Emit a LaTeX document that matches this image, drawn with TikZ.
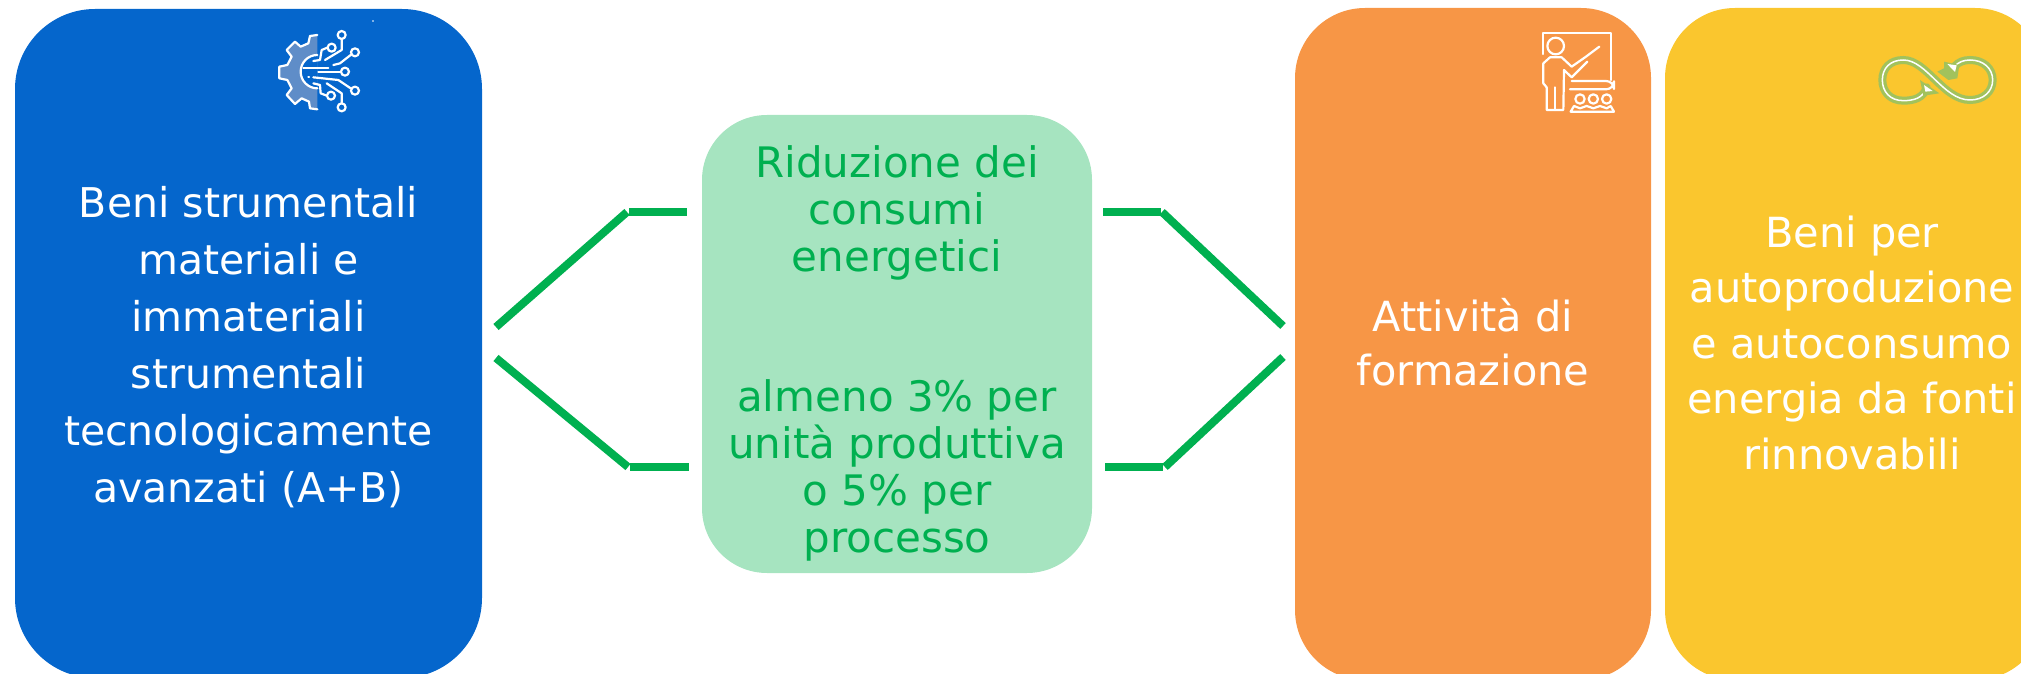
\documentclass[tikz,border=0pt]{standalone}
\usepackage{fontspec}
\setmainfont{DejaVu Sans}
\definecolor{bluebox}{HTML}{0566CC}
\definecolor{mintbox}{HTML}{A6E4C0}
\definecolor{orangebox}{HTML}{F79646}
\definecolor{yellowbox}{HTML}{FAC62E}
\definecolor{linkgreen}{HTML}{00B050}
\definecolor{leafgreen}{HTML}{A2C25C}
\definecolor{gearfill}{HTML}{5F8DC8}
\tikzset{
    panel/.style={rectangle,rounded corners=#1,inner sep=0pt,align=center,text=white},
    link/.style={draw=linkgreen,line width=8pt},
    iconline/.style={draw=white,line width=2.2pt,line cap=round,line join=round}
}
\begin{document}
\begin{tikzpicture}[x=1pt,y=-1pt]
    \useasboundingbox (0,0) rectangle (2021,674);

    % riquadri principali
    \node[panel=80pt,fill=bluebox,minimum width=467pt,minimum height=669pt] (beni) at (248.5,343.5) {};
    \node[panel=65pt,fill=mintbox,minimum width=390pt,minimum height=458pt] (riduzione) at (897,344) {};
    \node[panel=70pt,fill=orangebox,minimum width=356pt,minimum height=672pt] (formazione) at (1473,344) {};
    \node[panel=70pt,fill=yellowbox,minimum width=380pt,minimum height=672pt] (rinnovabili) at (1855,344) {};

    % testi
    \node[panel=0pt,font=\fontsize{41}{57}\selectfont] (benitext) at (248.5,347) {Beni strumentali\\materiali e\\immateriali\\strumentali\\tecnologicamente\\avanzati (A+B)};
    \node[panel=0pt,text=linkgreen,font=\fontsize{42}{47}\selectfont] (riduzionetext) at (897,353.5) {Riduzione dei\\consumi\\energetici\\[93pt]almeno 3\% per\\unità produttiva\\o 5\% per\\processo};
    \node[panel=0pt,font=\fontsize{41.5}{54}\selectfont] (formazionetext) at (1473,342) {Attività di\\formazione};
    \node[panel=0pt,font=\fontsize{41.5}{55.5}\selectfont] (rinnovabilitext) at (1852,343) {Beni per\\autoproduzione\\e autoconsumo\\energia da fonti\\rinnovabili};

    % connettori a sinistra
    \coordinate (lefttopA) at (496,327);
    \coordinate (lefttopB) at (627,212);
    \coordinate (lefttopC) at (629,212);
    \coordinate (lefttopD) at (687,212);
    \coordinate (leftlowA) at (496,358);
    \coordinate (leftlowB) at (628,467);
    \coordinate (leftlowC) at (630,467);
    \coordinate (leftlowD) at (689,467);
    \draw[link] (lefttopA) -- (lefttopB);
    \draw[link] (lefttopC) -- (lefttopD);
    \draw[link] (leftlowA) -- (leftlowB);
    \draw[link] (leftlowC) -- (leftlowD);

    % connettori a destra
    \coordinate (righttopA) at (1103,212);
    \coordinate (righttopB) at (1161,212);
    \coordinate (righttopC) at (1162,212);
    \coordinate (righttopD) at (1283,326);
    \coordinate (rightlowA) at (1105,467);
    \coordinate (rightlowB) at (1163,467);
    \coordinate (rightlowC) at (1165,467);
    \coordinate (rightlowD) at (1283,357);
    \draw[link] (righttopA) -- (righttopB);
    \draw[link] (righttopC) -- (righttopD);
    \draw[link] (rightlowA) -- (rightlowB);
    \draw[link] (rightlowC) -- (rightlowD);

    % icona ingranaggio
    \fill[white] (373,21) circle (0.8);
    \begin{scope}[shift={(230,0)},x=0.3333pt,y=-0.3333pt]
        \draw[iconline,fill=gearfill] (262,105) -- (240,108) -- (235,130) -- (212,140) -- (195,125) -- (170,150) -- (185,170) -- (172,195) -- (148,200) -- (148,235) -- (172,240) -- (185,265) -- (170,285) -- (195,312) -- (215,295) -- (237,305) -- (240,325) -- (262,328);
        \fill[bluebox] (262,165) arc (270:90:50) -- cycle;
        \draw[iconline] (262,165) arc (270:90:50);
        \draw[iconline] (220,203) -- (295,203);
        \draw[iconline] (265,215) -- (330,215);
        \draw[iconline] (235,232) -- (237,232);
        \draw[iconline] (250,232) -- (325,240) -- (362,265);
        \draw[iconline] (310,195) -- (330,190) -- (362,165);
        \draw[iconline] (250,183) -- (270,180) -- (275,150) -- (292,143);
        \draw[iconline] (285,180) -- (335,150) -- (335,118);
        \draw[iconline] (250,250) -- (270,255) -- (272,280) -- (290,287);
        \draw[iconline] (290,250) -- (335,280) -- (335,308);
        \foreach \px/\py in {335/105,305/143,375/157,345/215,375/272,303/287,335/322}
            \draw[iconline] (\px,\py) circle (12);
    \end{scope}

    % icona formazione
    \begin{scope}[shift={(1500,0)},x=0.3333pt,y=-0.3333pt]
        \draw[iconline] (130,162) -- (130,100) -- (332,100) -- (332,240);
        \draw[iconline] (167,138) circle (25);
        \draw[iconline] (140,262) -- (130,250) -- (130,190) -- (150,172) -- (185,172) -- (215,200) -- (258,170) -- (298,140);
        \draw[iconline] (262,185) -- (215,232) -- (192,210) -- (190,330) -- (140,330) -- (140,262);
        \draw[iconline] (165,262) -- (165,330);
        \draw[iconline,rounded corners=8pt] (215,243) -- (342,243) -- (342,268) -- (210,268);
        \foreach \px in {240,280,320}
            \draw[iconline] (\px,297) circle (14);
        \draw[iconline] (212,335) -- (342,335) -- (332,318) -- (320,325) -- (300,318) -- (280,325) -- (260,318) -- (240,325) -- (222,318) -- cycle;
    \end{scope}

    % icona infinito
    \begin{scope}[shift={(1820,30)},x=0.3333pt,y=-0.3333pt]
        \foreach \tone/\size in {leafgreen/8pt,white/1.5pt}
            \draw[draw=\tone,line width=\size,line cap=round]
                (320,172) .. controls (310,205) and (280,212) .. (250,212)
                .. controls (210,212) and (187,185) .. (187,150)
                .. controls (187,115) and (210,90) .. (250,90)
                .. controls (320,90) and (370,210) .. (450,210)
                .. controls (490,210) and (518,185) .. (518,150)
                .. controls (518,115) and (490,90) .. (450,90)
                .. controls (430,90) and (415,97) .. (405,108);
        \fill[leafgreen] (300,150) -- (358,190) -- (310,197) -- cycle;
        \fill[white] (312,165) -- (338,183) -- (316,185) -- cycle;
        \fill[leafgreen] (372,95) -- (418,105) -- (412,145) -- (385,150) -- (352,125) -- (372,115) -- cycle;
        \fill[white] (382,102) -- (410,106) -- (405,126) -- cycle;
    \end{scope}
\end{tikzpicture}
\end{document}
